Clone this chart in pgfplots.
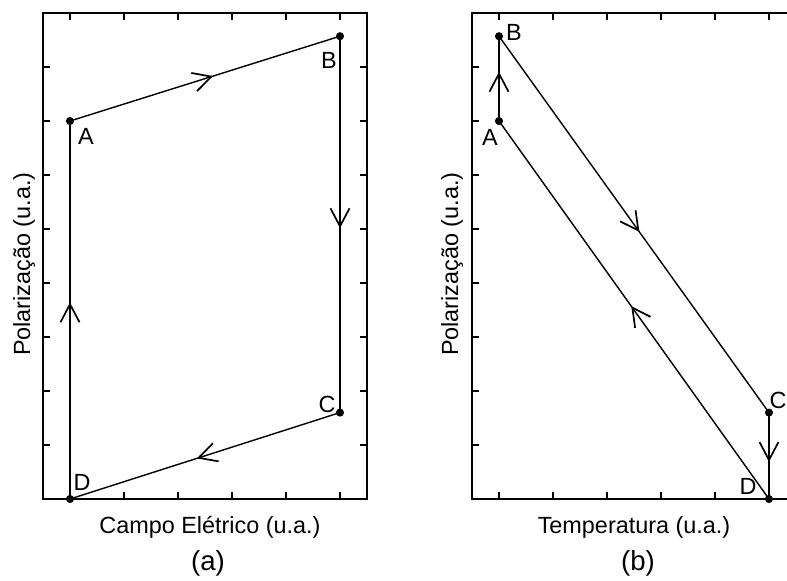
\documentclass[border=0pt]{standalone}
\usepackage{pgfplots}
\pgfplotsset{compat=1.18}
\usepackage{fontspec}
\setmainfont{Liberation Sans}
\usetikzlibrary{decorations.markings, arrows.meta}

\newcommand\lblfont{\fontsize{11.7}{13.5}\selectfont}
\newcommand\capfont{\fontsize{13.8}{16}\selectfont}

\pgfplotsset{
  panel/.style={
    scale only axis, width=162pt, height=243pt,
    xmin=-0.5, xmax=5.5, ymin=0, ymax=9,
    xtick={0,...,5}, ytick={1,...,8},
    xticklabels={}, yticklabels={},
    tick align=inside, major tick length=3.5pt,
    axis line style={line width=1.3pt},
    tick style={black, line width=1.3pt},
    clip=false,
  },
  seg/.style={black, line width=0.7pt, no marks,
    postaction={decorate},
    decoration={markings, mark=at position #1 with {\arrow{Straight Barb[length=9pt,width=9.5pt,line width=0.85pt]}}}},
  pts/.style={only marks, mark=*, mark size=1.8pt, black},
}

\begin{document}
\begin{tikzpicture}
\useasboundingbox (-21.5pt,-41pt) rectangle (372pt,249.5pt);
\clip (-21.5pt,-41pt) rectangle (372pt,249.5pt);

% ---------- (a) ----------
\begin{axis}[panel, at={(0pt,0pt)}, anchor=south west]
  \addplot[seg=0.53] coordinates {(0,7) (5,8.57)};
  \addplot[seg=0.51] coordinates {(5,8.57) (5,1.6)};
  \addplot[seg=0.53] coordinates {(5,1.6) (0,0)};
  \addplot[seg=0.52] coordinates {(0,0) (0,7)};
  \addplot[pts] coordinates {(0,7) (5,8.57) (5,1.6) (0,0)};
  \node[font=\lblfont, xshift=8pt, yshift=-7.5pt] at (axis cs:0,7) {A};
  \node[font=\lblfont, xshift=-5.5pt, yshift=-12pt] at (axis cs:5,8.57) {B};
  \node[font=\lblfont, xshift=-6.5pt, yshift=4pt] at (axis cs:5,1.6) {C};
  \node[font=\lblfont, xshift=6pt, yshift=8.5pt] at (axis cs:0,0) {D};
  \node[font=\lblfont, anchor=base] at ([xshift=2.5pt, yshift=-17.5pt]rel axis cs:0.5,0) {Campo Elétrico (u.a.)};
  \node[font=\capfont, anchor=base] at ([xshift=1.5pt, yshift=-36pt]rel axis cs:0.5,0) {(a)};
  \node[font=\lblfont, rotate=90, anchor=center] at ([xshift=-9.5pt]rel axis cs:0,0.483) {Polarização (u.a.)};
\end{axis}

% ---------- (b) ----------
\begin{axis}[panel, at={(214.5pt,0pt)}, anchor=south west]
  \addplot[seg=0.58] coordinates {(0,7) (0,8.57)};
  \addplot[seg=0.52] coordinates {(0,8.57) (5,1.6)};
  \addplot[seg=0.57] coordinates {(5,1.6) (5,0)};
  \addplot[seg=0.51] coordinates {(5,0) (0,7)};
  \addplot[pts] coordinates {(0,7) (0,8.57) (5,1.6) (5,0)};
  \node[font=\lblfont, xshift=-4.5pt, yshift=-8pt] at (axis cs:0,7) {A};
  \node[font=\lblfont, xshift=7.5pt, yshift=2pt] at (axis cs:0,8.57) {B};
  \node[font=\lblfont, xshift=4.5pt, yshift=6pt] at (axis cs:5,1.6) {C};
  \node[font=\lblfont, xshift=-10.5pt, yshift=6.5pt] at (axis cs:5,0) {D};
  \node[font=\lblfont, anchor=base] at ([yshift=-17.5pt]rel axis cs:0.5,0) {Temperatura (u.a.)};
  \node[font=\capfont, anchor=base] at ([xshift=2pt, yshift=-36pt]rel axis cs:0.5,0) {(b)};
  \node[font=\lblfont, rotate=90, anchor=center] at ([xshift=-10pt]rel axis cs:0,0.483) {Polarização (u.a.)};
\end{axis}
\end{tikzpicture}
\end{document}
